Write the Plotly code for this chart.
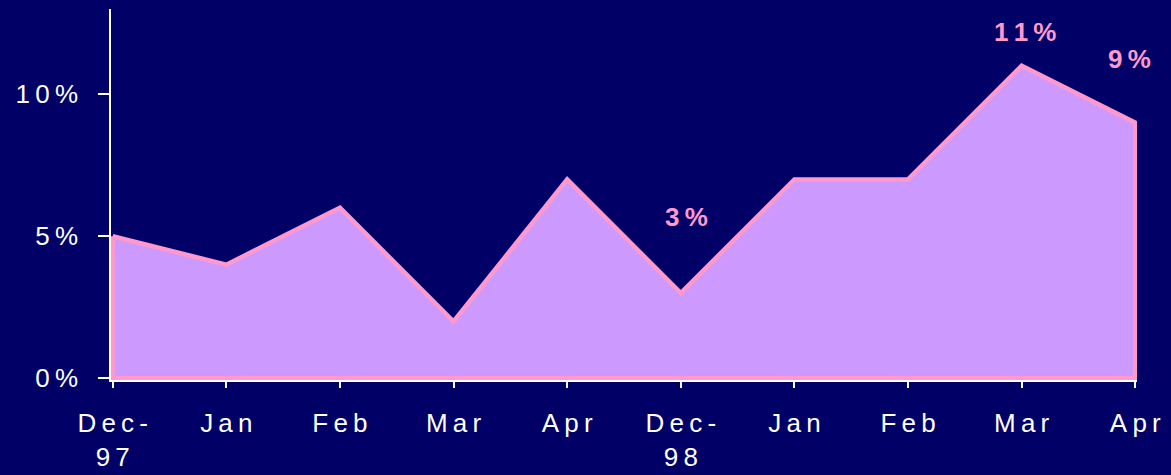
import plotly.graph_objects as go

categories = ["Dec-97", "Jan", "Feb", "Mar", "Apr", "Dec-98", "Jan", "Feb", "Mar", "Apr"]
values = [5, 4, 6, 2, 7, 3, 7, 7, 11, 9]
label_points = [5, 8, 9]          # indices of points that carry a data label
y_tick_values = [0, 5, 10]

BG = "#000066"
FILL = "#CC99FF"
LINE = "#FF99CC"
FONT = "Arial, Liberation Sans, sans-serif"
SP = "\u2009"


def spaced(s):
    return SP.join(list(s))


def tick_text(c):
    if "-" in c:
        a, b = c.split("-")
        return spaced(a + "-") + "<br>" + spaced(b)
    return spaced(c)


n = len(values)
xs = list(range(n))
poly_x = xs + [xs[-1], xs[0], xs[0]]
poly_y = values + [0, 0, values[0]]

fig = go.Figure()
fig.add_trace(go.Scatter(
    x=poly_x, y=poly_y, mode="lines", fill="toself",
    fillcolor=FILL, line=dict(color=LINE, width=4.5),
    hoverinfo="skip", showlegend=False,
))

label_shift = {5: 76, 8: 34, 9: 64}
label_xshift = {5: 6, 8: 3, 9: -6}
for i in label_points:
    fig.add_annotation(
        x=xs[i], y=values[i], text="<b>" + spaced(f"{values[i]}%") + "</b>",
        showarrow=False, yshift=label_shift[i], xshift=label_xshift[i],
        font=dict(family=FONT, size=26, color=LINE),
    )

fig.update_layout(
    width=1171, height=475,
    paper_bgcolor=BG, plot_bgcolor=BG,
    margin=dict(l=111, r=34, t=9, b=95, autoexpand=False),
    font=dict(family=FONT, size=26, color="white"),
    showlegend=False,
)
fig.update_xaxes(
    range=[-0.015, n - 1 + 0.015], automargin=False,
    tickmode="array", tickvals=xs, ticktext=[tick_text(c) for c in categories],
    showline=True, linecolor="white", linewidth=1.5,
    ticks="outside", ticklen=6, tickcolor="white", tickwidth=1.5,
    ticklabelstandoff=13,
    showgrid=False, zeroline=False, layer="above traces",
    tickfont=dict(family=FONT, size=26, color="white"),
)
fig.update_yaxes(
    range=[-0.06, 13], automargin=False,
    tickmode="array", tickvals=y_tick_values,
    ticktext=[spaced(f"{v}%") for v in y_tick_values],
    showline=True, linecolor="white", linewidth=1.5,
    ticks="outside", ticklen=11, tickcolor="white", tickwidth=1.5,
    ticklabelstandoff=15,
    showgrid=False, zeroline=False, layer="above traces",
    tickfont=dict(family=FONT, size=26, color="white"),
)

fig.write_html(
    "out.html",
    config={"displayModeBar": False},
    post_script="document.body.style.margin='0';document.body.style.background='#000066';",
)
